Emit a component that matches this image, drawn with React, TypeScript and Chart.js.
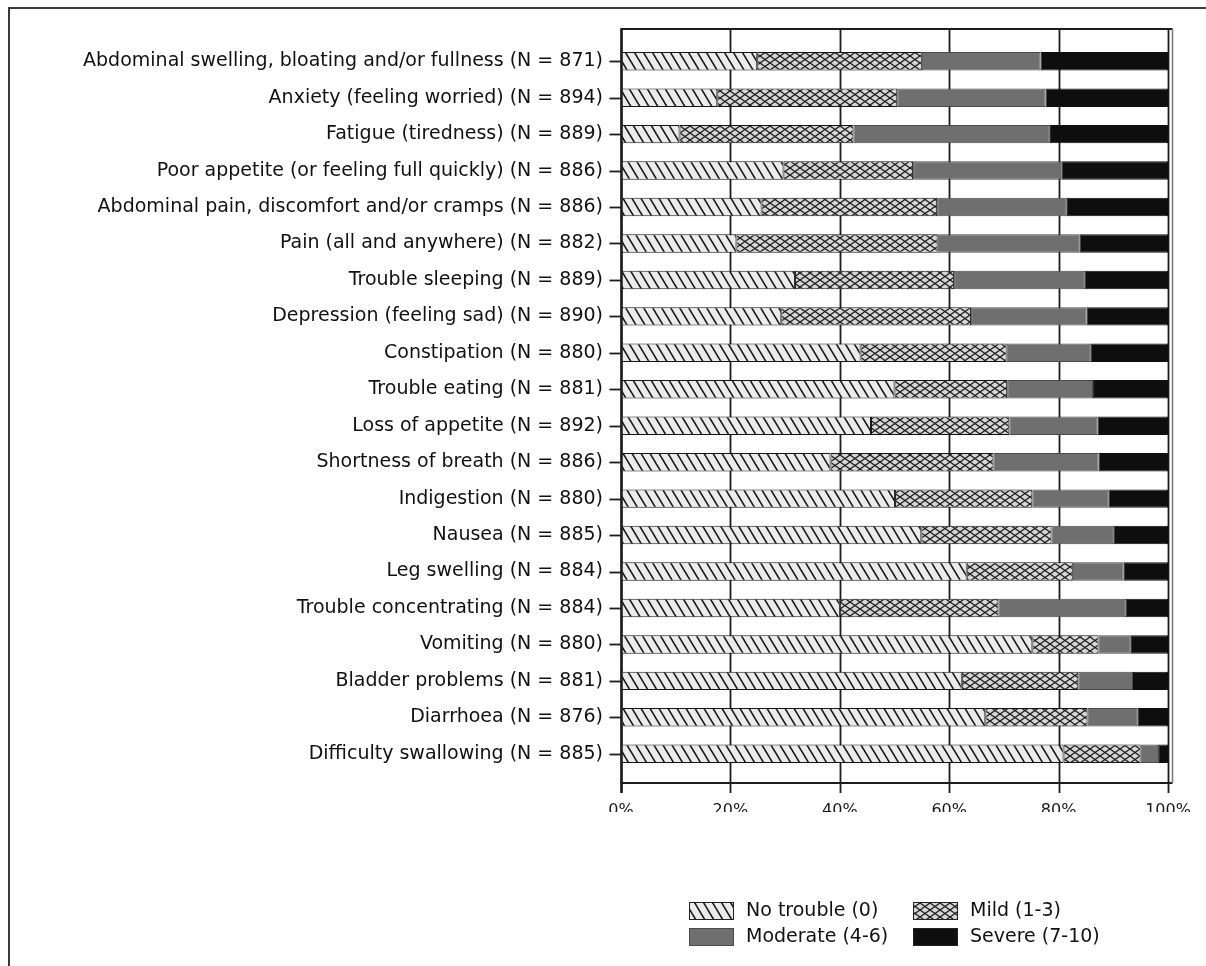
import React, { useEffect, useRef } from "react";
import { Chart, registerables } from "chart.js";

Chart.register(...registerables);

const categories = [
  "Abdominal swelling, bloating and/or fullness (N = 871)",
  "Anxiety (feeling worried) (N = 894)",
  "Fatigue (tiredness) (N = 889)",
  "Poor appetite (or feeling full quickly) (N = 886)",
  "Abdominal pain, discomfort and/or cramps (N = 886)",
  "Pain (all and anywhere) (N = 882)",
  "Trouble sleeping (N = 889)",
  "Depression (feeling sad) (N = 890)",
  "Constipation (N = 880)",
  "Trouble eating (N = 881)",
  "Loss of appetite (N = 892)",
  "Shortness of breath (N = 886)",
  "Indigestion (N = 880)",
  "Nausea (N = 885)",
  "Leg swelling (N = 884)",
  "Trouble concentrating (N = 884)",
  "Vomiting (N = 880)",
  "Bladder problems (N = 881)",
  "Diarrhoea (N = 876)",
  "Difficulty swallowing (N = 885)",
];

const noTrouble = [24.9, 17.6, 10.7, 29.7, 25.7, 21.1, 31.8, 29.3, 43.8, 50.0, 45.7, 38.3, 50.1, 54.9, 63.2, 40.0, 75.2, 62.3, 66.6, 80.9];
const mild = [30.1, 32.9, 31.8, 23.7, 32.1, 36.8, 29.1, 34.7, 26.7, 20.6, 25.3, 29.8, 25.1, 23.8, 19.4, 29.0, 12.1, 21.3, 18.7, 14.1];
const moderate = [21.7, 27.1, 35.9, 27.1, 23.7, 25.9, 23.8, 21.1, 15.3, 15.7, 16.1, 19.2, 13.9, 11.3, 9.3, 23.2, 5.9, 10.0, 9.1, 3.2];
const severe = [23.3, 22.4, 21.6, 19.5, 18.5, 16.2, 15.3, 14.9, 14.2, 13.7, 12.9, 12.7, 10.9, 10.0, 8.1, 7.8, 6.8, 6.4, 5.6, 1.8];

const xTickValues = [0, 20, 40, 60, 80, 100];
const seriesLabels = ["No trouble (0)", "Mild (1-3)", "Moderate (4-6)", "Severe (7-10)"];

const FONT = "'DejaVu Sans', 'Liberation Sans', Arial, sans-serif";

function makeHatch(): CanvasPattern | string {
  const c = document.createElement("canvas");
  const w = 9, h = 15;
  c.width = w; c.height = h;
  const ctx = c.getContext("2d");
  if (!ctx) return "#e6e6e6";
  ctx.fillStyle = "#ebebeb";
  ctx.fillRect(0, 0, w, h);
  ctx.strokeStyle = "#161616";
  ctx.lineWidth = 1.6;
  for (const k of [-1, 0, 1]) {
    ctx.beginPath();
    ctx.moveTo(k * w - (w / h), -1);
    ctx.lineTo(k * w + w + (w / h), h + 1);
    ctx.stroke();
  }
  return ctx.createPattern(c, "repeat") as CanvasPattern;
}

function makeCross(): CanvasPattern | string {
  const c = document.createElement("canvas");
  const w = 10, h = 7;
  c.width = w; c.height = h;
  const ctx = c.getContext("2d");
  if (!ctx) return "#d8d8d8";
  ctx.fillStyle = "#d6d6d6";
  ctx.fillRect(0, 0, w, h);
  ctx.strokeStyle = "#1e1e1e";
  ctx.lineWidth = 1.3;
  const dx = w / h;
  for (const k of [-1, 0, 1]) {
    ctx.beginPath();
    ctx.moveTo(k * w - dx, -1);
    ctx.lineTo(k * w + w + dx, h + 1);
    ctx.stroke();
    ctx.beginPath();
    ctx.moveTo(k * w - dx, h + 1);
    ctx.lineTo(k * w + w + dx, -1);
    ctx.stroke();
  }
  return ctx.createPattern(c, "repeat") as CanvasPattern;
}

export default function App() {
  const ref = useRef<HTMLCanvasElement | null>(null);

  useEffect(() => {
    const canvas = ref.current;
    if (!canvas) return;
    const hatch = makeHatch();
    const cross = makeCross();
    const fills = [hatch, cross, "#6f6f6f", "#0e0e0e"];
    const borders = ["#151515", "#151515", "#4a4a4a", "#0e0e0e"];
    const values = [noTrouble, mild, moderate, severe];

    const framePlugin = {
      id: "frame",
      beforeDraw(chart: any) {
        const ctx = chart.ctx;
        ctx.save();
        ctx.fillStyle = "#ffffff";
        ctx.fillRect(0, 0, chart.width, chart.height);
        ctx.strokeStyle = "#3a3a3a";
        ctx.lineWidth = 2;
        ctx.beginPath();
        ctx.moveTo(9, chart.height);
        ctx.lineTo(9, 8);
        ctx.lineTo(chart.width, 8);
        ctx.stroke();
        ctx.restore();
      },
      beforeDatasetsDraw(chart: any) {
        const ctx = chart.ctx;
        const xs = chart.scales.x;
        const area = chart.chartArea;
        const top = area.top - 14;
        const bottom = area.bottom + 11;
        ctx.save();
        ctx.strokeStyle = "#1c1c1c";
        ctx.lineWidth = 1.8;
        xs.ticks.forEach((t: any) => {
          const x = Math.round(xs.getPixelForValue(t.value)) + 0.5;
          ctx.beginPath();
          ctx.moveTo(x, top);
          ctx.lineTo(x, bottom + 10);
          ctx.stroke();
        });
        ctx.restore();
      },
      afterDatasetsDraw(chart: any) {
        const ctx = chart.ctx;
        const xs = chart.scales.x;
        const ys = chart.scales.y;
        const area = chart.chartArea;
        const top = area.top - 14;
        const bottom = area.bottom + 11;
        const left = Math.round(xs.getPixelForValue(0)) + 0.5;
        const right = Math.round(xs.getPixelForValue(100)) + 0.5;
        ctx.save();
        ctx.strokeStyle = "#1c1c1c";
        ctx.lineWidth = 2;
        ctx.beginPath();
        ctx.moveTo(left, top);
        ctx.lineTo(right + 4, top);
        ctx.stroke();
        ctx.beginPath();
        ctx.moveTo(left - 1, bottom);
        ctx.lineTo(right + 4, bottom);
        ctx.stroke();
        ctx.lineWidth = 2.5;
        ctx.beginPath();
        ctx.moveTo(left, top - 1);
        ctx.lineTo(left, bottom + 10);
        ctx.stroke();
        ctx.strokeStyle = "#777";
        ctx.lineWidth = 1.5;
        ctx.beginPath();
        ctx.moveTo(right + 4, top);
        ctx.lineTo(right + 4, bottom);
        ctx.stroke();
        ctx.strokeStyle = "#1c1c1c";
        ctx.lineWidth = 1.8;
        categories.forEach((_, i) => {
          const y = Math.round(ys.getPixelForValue(i)) + 0.5;
          ctx.beginPath();
          ctx.moveTo(left - 12, y);
          ctx.lineTo(left, y);
          ctx.stroke();
        });
        ctx.restore();
      },
      afterDraw(chart: any) {
        const ctx = chart.ctx;
        const items = [
          { x: 689, y: 902 },
          { x: 913, y: 902 },
          { x: 689, y: 928 },
          { x: 913, y: 928 },
        ];
        ctx.save();
        ctx.font = `19px ${FONT}`;
        ctx.textBaseline = "middle";
        ctx.textAlign = "left";
        items.forEach((p, i) => {
          const ds = chart.data.datasets[i];
          ctx.fillStyle = ds.backgroundColor;
          ctx.fillRect(p.x, p.y, 44, 17);
          ctx.strokeStyle = i === 2 ? "#4a4a4a" : "#222";
          ctx.lineWidth = 1;
          ctx.strokeRect(p.x + 0.5, p.y + 0.5, 44, 17);
          ctx.fillStyle = "#111";
          ctx.fillText(ds.label, p.x + 57, p.y + 9);
        });
        ctx.restore();
      },
    };

    const chart = new Chart(canvas, {
      type: "bar",
      data: {
        labels: categories,
        datasets: seriesLabels.map((label, i) => ({
          label,
          data: values[i],
          backgroundColor: fills[i] as any,
          borderColor: borders[i],
          borderWidth: 1,
          borderSkipped: false,
          categoryPercentage: 1,
          barPercentage: 0.507,
        })),
      },
      options: {
        indexAxis: "y",
        responsive: false,
        animation: false,
        devicePixelRatio: 1,
        layout: { padding: { left: 0, right: 38, top: 43, bottom: 154 } },
        plugins: {
          legend: { display: false },
          tooltip: { enabled: false },
        },
        scales: {
          x: {
            type: "linear",
            stacked: true,
            min: 0,
            max: 100,
            afterBuildTicks: (s: any) => {
              s.ticks = xTickValues.map((v) => ({ value: v }));
            },
            grid: { display: false, drawTicks: false, tickLength: 0 },
            border: { display: false },
            ticks: {
              padding: 29,
              color: "#1a1a1a",
              font: { family: FONT, size: 16 },
              maxRotation: 0,
              callback: (v: any) => `${v}%`,
            },
            afterFit: (s: any) => {
              s.height = 40;
              s.paddingLeft = 0;
              s.paddingRight = 0;
            },
          },
          y: {
            stacked: true,
            grid: { display: false, drawTicks: false, tickLength: 0 },
            border: { display: false },
            ticks: {
              padding: 18,
              color: "#111",
              font: { family: FONT, size: 19 },
              autoSkip: false,
            },
            afterFit: (s: any) => {
              s.width = 621;
              s.paddingTop = 0;
              s.paddingBottom = 0;
            },
          },
        },
      },
      plugins: [framePlugin],
    });

    return () => chart.destroy();
  }, []);

  return (
    <canvas
      ref={ref}
      width={1206}
      height={966}
      style={{ position: "absolute", left: 0, top: 0 }}
    />
  );
}
